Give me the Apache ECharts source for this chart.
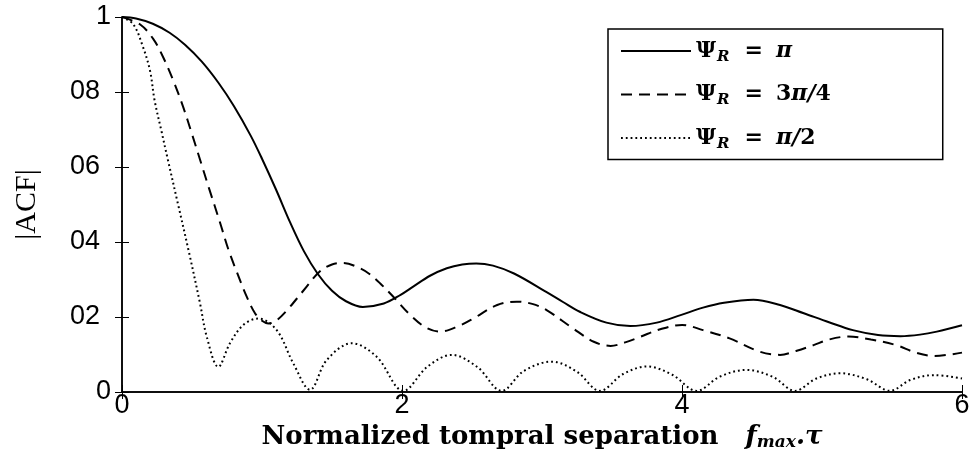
<!DOCTYPE html>
<html>
<head>
<meta charset="utf-8">
<title>|ACF| versus normalized temporal separation</title>
<script src="https://cdn.jsdelivr.net/npm/echarts@6/dist/echarts.min.js"></script>
<style>
  html, body { margin: 0; padding: 0; background: #fff; }
  #chart { width: 974px; height: 450px; }
</style>
</head>
<body>
<div id="chart"></div>
<script>
// Tick labels as printed on the axes
const xTickLabels = ['0', '2', '4', '6'];
const yTickLabels = ['0', '02', '04', '06', '08', '1'];

// Series names (legend keys)
const seriesNames = ['Ψ_R = π', 'Ψ_R = 3π/4', 'Ψ_R = π/2'];

// |ACF| for Ψ_R = π
const piX = [0, 0.1, 0.22, 0.34, 0.45, 0.57, 0.69, 0.8, 0.92, 1.0, 1.1, 1.2, 1.3, 1.4, 1.5, 1.6, 1.72, 1.87, 1.99, 2.08, 2.2, 2.32, 2.43, 2.53, 2.65, 2.8, 3.03, 3.15, 3.27, 3.46, 3.63, 3.82, 3.99, 4.15, 4.3, 4.51, 4.7, 4.87, 5.05, 5.22, 5.4, 5.56, 5.7, 5.82, 6];
const piY = [1, 0.996, 0.982, 0.958, 0.926, 0.881, 0.824, 0.762, 0.683, 0.622, 0.54, 0.453, 0.375, 0.314, 0.27, 0.242, 0.227, 0.236, 0.259, 0.281, 0.31, 0.33, 0.34, 0.343, 0.337, 0.316, 0.267, 0.24, 0.214, 0.185, 0.176, 0.185, 0.205, 0.225, 0.238, 0.246, 0.232, 0.21, 0.186, 0.165, 0.152, 0.149, 0.153, 0.161, 0.178];

// |ACF| for Ψ_R = 3π/4
const threeQuarterPiX = [0, 0.13, 0.224, 0.295, 0.367, 0.438, 0.498, 0.557, 0.62, 0.7, 0.76, 0.82, 0.89, 0.95, 1.0, 1.045, 1.1, 1.176, 1.295, 1.414, 1.5, 1.58, 1.7, 1.77, 1.843, 1.938, 2.06, 2.17, 2.27, 2.4, 2.51, 2.68, 2.82, 2.93, 3.03, 3.22, 3.37, 3.49, 3.6, 3.7, 3.85, 4.0, 4.15, 4.34, 4.56, 4.7, 4.82, 4.94, 5.05, 5.19, 5.35, 5.53, 5.67, 5.8, 6];
const threeQuarterPiY = [1, 0.98, 0.941, 0.892, 0.83, 0.759, 0.69, 0.62, 0.545, 0.452, 0.38, 0.32, 0.255, 0.21, 0.19, 0.183, 0.19, 0.217, 0.27, 0.322, 0.34, 0.344, 0.33, 0.314, 0.29, 0.254, 0.205, 0.172, 0.161, 0.175, 0.196, 0.232, 0.241, 0.235, 0.219, 0.17, 0.134, 0.123, 0.133, 0.147, 0.168, 0.179, 0.165, 0.143, 0.107, 0.099, 0.11, 0.125, 0.14, 0.148, 0.14, 0.125, 0.105, 0.096, 0.105];

// |ACF| for Ψ_R = π/2
const halfPiX = [0, 0.08, 0.15, 0.2, 0.233, 0.281, 0.329, 0.4, 0.48, 0.557, 0.605, 0.688, 0.771, 0.867, 0.974, 1.105, 1.224, 1.343, 1.462, 1.64, 1.819, 2.01, 2.18, 2.355, 2.54, 2.712, 2.87, 3.07, 3.25, 3.414, 3.58, 3.75, 3.93, 4.105, 4.27, 4.46, 4.65, 4.807, 4.96, 5.13, 5.32, 5.486, 5.63, 5.8, 6];
const halfPiY = [1, 0.981, 0.92, 0.857, 0.777, 0.697, 0.617, 0.501, 0.37, 0.237, 0.148, 0.067, 0.13, 0.179, 0.196, 0.165, 0.076, 0.006, 0.085, 0.13, 0.094, 0.003, 0.067, 0.099, 0.066, 0.003, 0.056, 0.081, 0.054, 0.003, 0.048, 0.068, 0.046, 0.003, 0.041, 0.059, 0.04, 0.003, 0.036, 0.05, 0.034, 0.003, 0.032, 0.045, 0.036];

const zip = (xs, ys) => xs.map((x, i) => [x, ys[i]]);

const serif = "'DejaVu Serif', 'Liberation Serif', serif";
const sans = "'Liberation Sans', Arial, sans-serif";

// Legend labels: Ψ with subscript R, then the value of Ψ_R
const legendText = {
  'Ψ_R = π': '{p|Ψ}{s|R}{e|=}{i|π}',
  'Ψ_R = 3π/4': '{p|Ψ}{s|R}{e|=}{p|3}{i|π/}{p|4}',
  'Ψ_R = π/2': '{p|Ψ}{s|R}{e|=}{i|π/}{p|2}'
};

const axisLine = { show: true, lineStyle: { color: '#000', width: 1.5 } };
const axisTick = { show: true, inside: true, length: 7, lineStyle: { color: '#000', width: 1 } };

const chart = echarts.init(document.getElementById('chart'), null, { renderer: 'canvas' });

chart.setOption({
  animation: false,
  backgroundColor: '#fff',
  grid: { left: 122, right: 12, top: 17, bottom: 58, containLabel: false, outerBoundsMode: 'none' },
  legend: {
    data: seriesNames,
    orient: 'vertical',
    left: 608,
    top: 29,
    itemWidth: 70,
    itemHeight: 22,
    itemGap: 19,
    padding: [11, 112, 8, 12],
    borderColor: '#000',
    borderWidth: 1.5,
    backgroundColor: '#fff',
    selectedMode: false,
    itemStyle: { opacity: 0 },
    formatter: name => legendText[name],
    textStyle: {
      color: '#000',
      rich: {
        p: { fontFamily: serif, fontWeight: 'bold', fontSize: 22, color: '#000' },
        e: { fontFamily: serif, fontWeight: 'bold', fontSize: 22, color: '#000', padding: [0, 13, 0, 15] },
        i: { fontFamily: serif, fontWeight: 'bold', fontStyle: 'italic', fontSize: 22, color: '#000' },
        s: { fontFamily: serif, fontWeight: 'bold', fontStyle: 'italic', fontSize: 15, color: '#000', padding: [12, 0, 0, 1] }
      }
    }
  },
  xAxis: [{
    type: 'value',
    min: 0, max: 6, interval: 2,
    position: 'bottom',
    axisLine, axisTick,
    splitLine: { show: false },
    axisLabel: {
      color: '#000', fontFamily: sans, fontSize: 27, margin: 0, lineHeight: 27,
      formatter: v => xTickLabels[Math.round(v / 2)]
    },
    name: '{b|Normalized tompral separation   }{i|f}{s|max}{i|.τ}',
    nameLocation: 'middle',
    nameGap: 20,
    nameTextStyle: {
      rich: {
        b: { fontFamily: serif, fontWeight: 'bold', fontSize: 26, color: '#000' },
        i: { fontFamily: serif, fontWeight: 'bold', fontStyle: 'italic', fontSize: 26, color: '#000' },
        s: { fontFamily: serif, fontWeight: 'bold', fontStyle: 'italic', fontSize: 17, color: '#000', padding: [12, 0, 0, 0] }
      }
    }
  }, {
    type: 'value',
    min: 0, max: 6, interval: 2,
    position: 'top',
    axisLine, axisTick,
    splitLine: { show: false },
    axisLabel: { show: false }
  }],
  yAxis: [{
    type: 'value',
    min: 0, max: 1, interval: 0.2,
    position: 'left',
    axisLine, axisTick,
    splitLine: { show: false },
    axisLabel: {
      color: '#000', fontFamily: sans, fontSize: 27, margin: 11,
      formatter: v => {
        const t = yTickLabels[Math.round(v / 0.2)];
        return t.length > 1 ? '{w|' + t + '}' : '{n|' + t + '}';
      },
      rich: {
        w: { fontFamily: sans, fontSize: 27, color: '#000', padding: [0, 11, 0, 0] },
        n: { fontFamily: sans, fontSize: 27, color: '#000' }
      }
    },
    name: '|ACF|',
    nameLocation: 'middle',
    nameGap: 80,
    nameRotate: 90,
    nameTextStyle: { fontFamily: "'Liberation Serif', 'DejaVu Serif', serif", fontSize: 30, color: '#000' }
  }, {
    type: 'value',
    min: 0, max: 1, interval: 0.2,
    position: 'right',
    axisLine, axisTick,
    splitLine: { show: false },
    axisLabel: { show: false }
  }],
  series: [{
    name: seriesNames[0],
    type: 'line',
    data: zip(piX, piY),
    symbol: 'none',
    smooth: 0.35,
    lineStyle: { color: '#000', width: 2, type: 'solid' },
    itemStyle: { color: '#000' }
  }, {
    name: seriesNames[1],
    type: 'line',
    data: zip(threeQuarterPiX, threeQuarterPiY),
    symbol: 'none',
    smooth: 0.35,
    lineStyle: { color: '#000', width: 2, type: [11, 7] },
    itemStyle: { color: '#000' }
  }, {
    name: seriesNames[2],
    type: 'line',
    data: zip(halfPiX, halfPiY),
    symbol: 'none',
    smooth: 0.35,
    lineStyle: { color: '#000', width: 2, type: [1.8, 3] },
    itemStyle: { color: '#000' }
  }]
});
</script>
</body>
</html>
